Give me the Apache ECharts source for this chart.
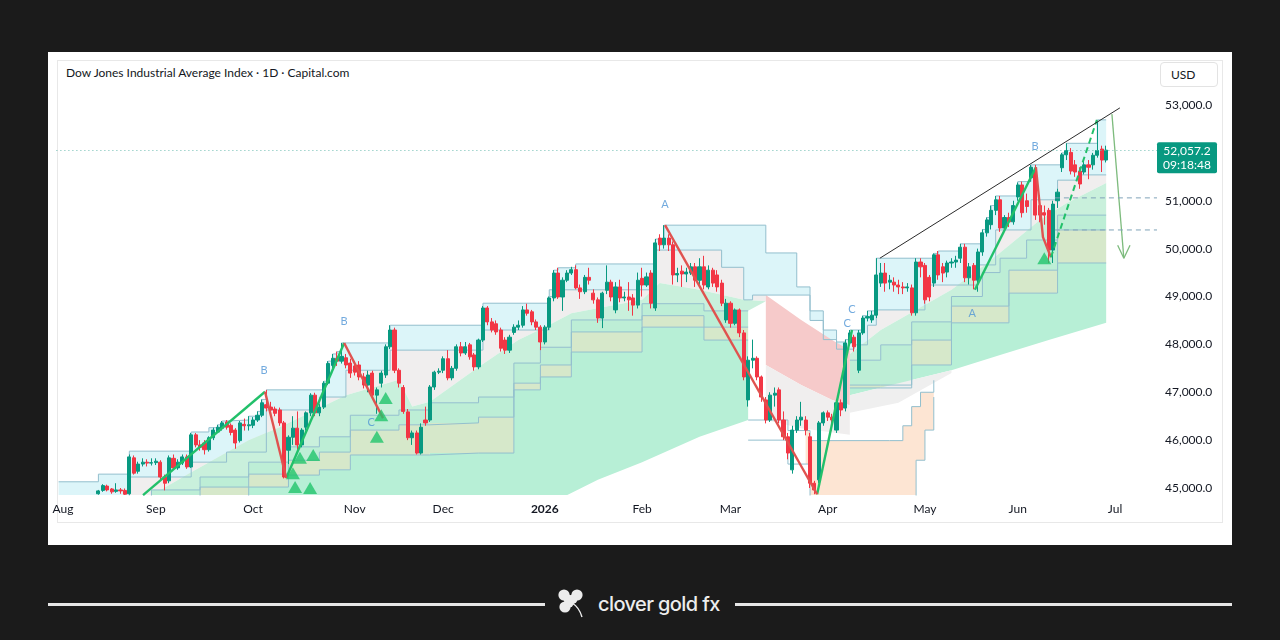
<!DOCTYPE html>
<html><head><meta charset="utf-8">
<script src="https://cdn.jsdelivr.net/npm/echarts@6/dist/echarts.min.js"></script>
<style>
html,body{margin:0;padding:0;width:1280px;height:640px;background:#1b1b1b;overflow:hidden;font-family:Lato,"Noto Sans",sans-serif;}
#panel{position:absolute;left:48px;top:52px;width:1184px;height:493px;background:#fff;}
#widget{position:absolute;left:57px;top:60px;width:1166px;height:463px;border:1px solid #e8e8e8;box-sizing:border-box;}
#chart{position:absolute;left:0;top:0;width:1280px;height:640px;}
#title{position:absolute;left:66px;top:65px;font-size:12px;color:#131722;white-space:nowrap;}
#usd{position:absolute;left:1160px;top:62px;width:58px;height:25px;border:1px solid #e3e3e3;border-radius:4px;box-sizing:border-box;font-size:12px;color:#131722;line-height:23px;padding-left:10px;}
.rule{position:absolute;top:603px;height:3px;background:#e6e6e6;}
#brand{position:absolute;left:598px;top:592px;font-family:Inter,"Noto Sans",sans-serif;font-size:20px;line-height:24px;font-weight:500;color:#ededed;letter-spacing:-0.6px;white-space:nowrap;}
#clover{position:absolute;left:555px;top:587px;}
</style></head>
<body>
<div id="panel"></div>
<div id="widget"></div>
<div id="title">Dow Jones Industrial Average Index · 1D · Capital.com</div>
<div id="usd">USD</div>
<div class="rule" style="left:48px;width:497px"></div>
<div class="rule" style="left:735px;width:497px"></div>
<svg id="clover" width="34" height="32" viewBox="0 0 34 32">
 <g fill="#ececec">
  <circle cx="9" cy="8" r="5.6"/><circle cx="13" cy="12" r="4.6"/>
  <circle cx="22" cy="8" r="5.6"/><circle cx="18" cy="12" r="4.6"/>
  <circle cx="10" cy="20" r="5.6"/><circle cx="14" cy="16" r="4.6"/>
  <circle cx="16" cy="14" r="4"/>
 </g>
 <path d="M17 16 Q24 20 27 30" stroke="#ececec" stroke-width="1.4" fill="none"/>
</svg>
<div id="brand">clover gold fx</div>
<div id="chart"></div>
<script>
// ---------- DATA ----------
const START_DATE = '2025-07-31';
const N_CATEGORIES = 249;
const LAST_COUNTDOWN = '09:18:48';
const Y_TICKS = [45000,46000,47000,48000,49000,50000,51000,52000,53000];
const MONTHS = ['Jan','Feb','Mar','Apr','May','Jun','Jul','Aug','Sep','Oct','Nov','Dec'];

// [open, close, low, high], one per weekday from 2025-07-31
const ohlc = [
[44300,44200,44100,44450],[44200,44150,43900,44400],[44150,44400,44100,44450],[44400,44100,44000,44500],[44100,44200,44000,44300],
[44200,44450,44150,44500],[44450,44350,44250,44550],[44350,44600,44300,44650],[44700,44840,44650,44850],[44880,44940,44860,44960],
[44950,45050,44920,45080],[45040,44960,44930,45070],[44980,44920,44880,45000],[44930,44960,44900,45100],[44960,44940,44880,45000],
[44950,44870,44855,44990],[44880,45650,44860,45700],[45630,45310,45280,45680],[45350,45500,45300,45550],[45500,45540,45450,45620],
[45540,45520,45450,45600],[45520,45530,45470,45620],[45530,45560,45480,45620],[45540,45230,45180,45580],[45230,45100,44950,45280],
[45150,45630,45100,45680],[45620,45420,45380,45700],[45420,45540,45380,45600],[45520,45650,45480,45700],[45650,45440,45400,45700],
[45440,46110,45420,46150],[46110,45900,45850,46150],[45900,45850,45780,46000],[45940,45800,45700,46000],[45800,46050,45760,46080],
[46050,46210,46000,46260],[46170,46270,46150,46320],[46250,46360,46200,46400],[46380,46270,46220,46420],[46310,46160,46100,46350],
[46210,45940,45820,46250],[45990,46360,45950,46400],[46330,46300,46200,46450],[46300,46320,46200,46500],[46310,46420,46250,46480],
[46420,46520,46380,46600],[46520,46780,46480,46850],[46740,46670,46600,47050],[46690,46630,46550,46800],[46650,46560,46500,46700],
[46630,46360,46300,46680],[46360,45230,45200,46400],[45790,46060,45500,46100],[46060,46250,45900,46500],[46250,45900,45800,46600],
[45900,46210,45850,46250],[46270,46570,46200,46600],[46570,46940,46500,46980],[46940,46570,46500,46990],[46570,46690,46500,46750],
[46690,47190,46650,47230],[47190,47600,47150,47650],[47560,47710,47500,47800],[47710,47650,47550,47850],[47650,47750,47600,48030],
[47720,47570,47500,47800],[47610,47400,47300,47700],[47550,47420,47350,47650],[47570,47320,47250,47650],[47320,47150,47080,47400],
[47150,47360,47000,47450],[47400,46940,46880,47450],[46940,47050,46550,47100],[47190,47400,47100,47450],[47360,47950,47300,48000],
[47950,48300,47900,48400],[48300,47460,47400,48350],[47460,47190,47100,47500],[47100,46600,46550,47150],[46590,46050,46000,46650],
[46050,46150,45900,46200],[46150,45730,45700,46200],[45730,46270,45700,46350],[46420,46360,46300,46700],[46420,47110,46380,47150],
[47110,47420,47050,47450],[47420,47440,47380,47500],[47460,47700,47400,47750],[47700,47300,47250,47880],[47300,47500,47250,47550],
[47500,47950,47450,48000],[47950,47820,47750,48050],[47820,47950,47780,48050],[47990,47740,47680,48030],[47780,47530,47450,47820],
[47530,48090,47480,48120],[48090,48760,48050,48800],[48760,48470,48400,48800],[48470,48300,48250,48550],[48430,48260,48200,48500],
[48300,47920,47850,48350],[48090,47880,47800,48150],[47880,48150,47820,48200],[48250,48360,48200,48420],[48360,48400,48300,48500],
[48400,48720,48350,48800],[48720,48650,48600,48850],[48680,48470,48400,48720],[48470,48360,48300,48520],[48360,48050,47880,48400],
[48050,48360,48000,48400],[48360,48970,48300,49000],[48970,49490,48900,49550],[49490,48990,48950,49600],[48990,49340,48700,49400],
[49340,49490,49300,49550],[49490,49560,49450,49620],[49560,49180,49150,49650],[49180,49100,48950,49250],[49100,49400,49050,49450],
[49400,49340,49250,49600],[49070,48930,48850,49150],[48930,48550,48450,48980],[48550,49070,48340,49100],[49130,49300,49050,49650],
[49300,48990,48900,49350],[48720,49200,48650,49300],[49200,48970,48880,49350],[48970,48990,48900,49100],[48990,48930,48700,49300],
[48970,48820,48600,49050],[48820,49340,48750,49500],[49380,49240,49000,49600],[49240,49410,49200,49500],[49490,48860,48750,49550],
[48760,50120,48700,50200],[50220,50080,49950,50300],[50080,50220,50000,50490],[50220,50080,49950,50300],[50080,49450,49250,50150],
[49450,49480,49300,49600],[49530,49470,49200,49650],[49470,49510,49300,49600],[49490,49620,49450,49700],[49620,49340,49200,49700],
[49340,49620,49200,49800],[49620,49240,49150,49850],[49200,49550,49150,49650],[49550,49280,49200,49600],[49450,49200,49100,49550],
[49280,48860,48800,49350],[48510,48860,48450,48950],[48860,48440,48350,48900],[48440,48720,48400,48750],[48720,48240,48150,48750],
[48240,47320,47250,48300],[46840,47670,46700,47750],[47670,47710,47500,48100],[47710,47320,47250,47750],[47320,46900,46800,47350],
[46840,46420,46350,46900],[46420,46940,46380,47000],[46940,46980,46700,47100],[47050,46420,46350,47100],[46420,46070,46000,46600],
[46070,45730,45600,46150],[45380,46210,45300,46300],[46210,46420,46150,46500],[46420,46480,46300,46800],[46420,46210,46100,46500],
[46070,45100,45000,46150],[45100,44960,44870,45150],[45170,46360,45100,46400],[46360,46570,46300,46600],[46570,46480,46400,46620],
[46480,46420,46200,46550],[46210,46780,46150,46850],[46780,46630,46500,46850],[46670,48030,46600,48100],[48030,48240,47980,48300],
[48150,47950,47850,48200],[47460,48240,47400,48300],[48240,48550,48200,48600],[48550,48580,48480,48700],[48510,48610,48450,48700],
[48610,49450,48550,49800],[49280,49490,49200,49700],[49490,49280,49100,49700],[49300,49340,49150,49450],[49300,49240,49100,49400],
[49240,49200,49050,49350],[49200,49180,49050,49300],[49180,49200,49100,49280],[49180,48660,48600,49250],[48660,49720,48600,49800],
[49720,49620,49400,49800],[49650,48930,48850,49700],[49400,48990,48900,49450],[49280,49870,49200,49900],[49870,49450,49350,49950],
[49620,49490,49300,49700],[49510,49700,49400,49750],[49700,49720,49600,49800],[49720,49760,49600,49850],[49800,50030,49700,50100],
[50030,49390,49300,50100],[49390,49620,49250,49700],[49650,49340,49150,49700],[49340,49930,49100,50000],[49930,50330,49850,50400],
[50330,50600,50250,50650],[50500,50800,50400,50900],[50800,51020,50700,51100],[51020,50430,50350,51100],[50430,50650,50350,50700],
[50650,50560,50450,50750],[50560,50900,50500,51000],[51080,51330,51000,51380],[51330,50750,50650,51400],[51000,50880,50750,51150],
[51480,51700,51400,51750],[51620,50700,50600,51750],[50900,50700,50550,51000],[50750,50700,50500,50900],[50800,49970,49700,50850],
[49970,50930,49700,51000],[51000,51180,50850,51250],[51690,51960,51600,52000],[51960,52050,51850,52200],[52010,51620,51550,52100],
[51750,51600,51500,51850],[51620,51350,51250,51700],[51600,51750,51550,51850],[51750,51700,51450,51850],[51750,51950,51650,52000],
[51950,52050,51900,52650],[52080,51850,51600,52150],[51850,52057.2,51800,52150]
];

// indicator lines: [category index, price]
const upperLine = [[0,45130],[9,45290],[16,45770],[30,46170],[34,46260],[36,46320],[37,46400],[38,46420],[43,46500],[45,46600],[46,46850],[47,47050],[60,47230],[61,47650],[62,47800],[63,47850],[64,48030],[75,48400],[96,48860],[111,49000],[112,49550],[113,49600],[117,49680],[135,50200],[137,50490],[160,49910],[167,49200],[170,48700],[173,48300],[176,48050],[178,48100],[179,48300],[182,48600],[183,48700],[185,49800],[198,49900],[199,49950],[204,50100],[209,50400],[210,50650],[211,50900],[212,51100],[217,51400],[220,51750],[227,52000],[228,52200],[235,52690],[237,52690]];
const midLine = [[0,44700],[16,45230],[30,45540],[38,45750],[47,46630],[59,46900],[65,47460],[75,47880],[96,48300],[111,49140],[135,49970],[150,49610],[155,48930],[157,49030],[170,48500],[173,48100],[176,47900],[180,47990],[183,48400],[185,48720],[196,49240],[208,49660],[212,50390],[220,51020],[226,51430],[231,51540],[237,51540]];
const emaLeft = [[0,44300],[21,44850],[31,45380],[43,46000],[50,46270],[65,46940],[77,47260],[80,46700],[84,46800],[95,47530],[104,48090],[110,48360],[116,48650],[132,48930],[136,49280],[145,49140],[155,48930],[160,48900]];
const emaRight = [[179,47800],[186,48300],[202,49140],[211,49760],[222,50600],[228,50950],[237,51370]];
const low1Left = [[0,44400],[21,44960],[32,45230],[43,45540],[52,45860],[59,46070],[66,46520],[77,46630],[84,46780],[95,46900],[103,47610],[109,47940],[116,48510],[132,48850],[146,48700],[156,48700]];
const low2Left = [[0,44300],[21,44750],[32,45020],[43,45290],[52,45580],[59,45750],[66,46210],[77,46320],[84,46360],[95,46480],[103,47190],[109,47570],[116,48260],[132,48600],[146,48360],[156,48360]];
const low3Left = [[0,44200],[21,44540],[32,44810],[43,45020],[52,45270],[59,45380],[66,45690],[77,45690],[84,45730],[95,45730],[103,47050],[109,47320],[116,47840],[132,48360],[146,48090],[156,48090]];
const low1Right = [[179,47670],[186,47990],[193,48470],[202,49000],[209,49500],[213,49800],[219,50180],[226,50700],[237,50700]];
const low2Right = [[179,47150],[186,47150],[193,48090],[202,48800],[215,49550],[226,50390],[237,50390]];
const low3Right = [[179,47090],[186,47090],[193,47570],[202,48450],[215,49070],[226,49700],[237,49700]];
const slowCurve = [[0,42660],[95,43500],[115,44850],[122,45170],[132,45540],[145,46070],[156,46420],[168,46730],[179,46940],[190,47190],[202,47460],[213,47780],[224,48090],[237,48450]];
const redTop = [[160,49030],[168,48510],[175,48090],[179,47880]];
const redBottom = [[160,47570],[168,47150],[175,46840],[179,46730]];
const greyBottom = [[160,46420],[168,46250],[179,46110]];
const fallTop = [[156,46420],[165,46200],[170,45990],[188,45990],[191,46300],[193,46700],[195,47000],[198,47250]];
const fallBottom = [[156,46000],[165,45500],[170,44500],[193,44500],[194,45580],[196,46210],[198,46900]];
const slowGreyTop = [[179,46940],[190,47190],[202,47460]];
const slowGreyBottom = [[179,46570],[190,46780],[202,47400]];

// wave structure
const waveUp = [
  [[19.1,44850],[46.7,47010]],
  [[51.5,45210],[64.6,48030]],
  [[171.6,44870],[179.5,48300]],
  [[207.3,49140],[221.1,51700]]
];
const waveDown = [
  [[46.7,47010],[51.5,45210]],
  [[64.6,48030],[73.4,46460]],
  [[137.2,50490],[171.6,44870]],
  [[221.1,51700],[222.7,50240],[224.5,49820]]
];
const waveProjection = [[224.5,49820],[234.9,52690]];
const waveLabels = [
  {name:'B', value:[46.5,47460]},{name:'B', value:[64.6,48470]},{name:'C', value:[70.7,46360]},
  {name:'A', value:[137.2,50930]},{name:'C', value:[179.5,48740]},{name:'C', value:[178.4,48430]},
  {name:'A', value:[206.7,48650]},{name:'B', value:[220.9,52140]}
];
const signals = [[53,45310],[54.6,45630],[57.6,45690],[53.5,45020],[56.9,45000],[74,46880],[73,46520],[72,46070],[223,49800]];
const resistance = [[185.8,49800],[240.1,52940]];
const forecastArrow = [[238.3,52810],[241,49800]];
const forecastHead = [[239.6,50070],[241,49800],[242.4,50070]];
const targetLevels = [51060, 50390];
const targetStart = 225.4;

// ---------- BUILD ----------
const dates = [];
{
  const d = new Date(START_DATE + 'T00:00:00Z');
  while (dates.length < N_CATEGORIES) {
    const wd = d.getUTCDay();
    if (wd !== 0 && wd !== 6) dates.push(d.toISOString().slice(0,10));
    d.setUTCDate(d.getUTCDate() + 1);
  }
}
const LAST = ohlc[ohlc.length-1][1];
const X_MAX = N_CATEGORIES - 0.5;

function sliceStep(line, a, b){
  let held = line[0][1];
  for (const p of line) if (p[0] <= a) held = p[1];
  const out = [[a, held]];
  for (const p of line) if (p[0] > a && p[0] < b) out.push(p);
  out.push([b, out[out.length-1][1]]);
  return out;
}
function toPts(line, stepped, api){
  const out = [];
  for (let i = 0; i < line.length; i++){
    out.push(api.coord(line[i]));
    if (stepped && i < line.length - 1) out.push(api.coord([line[i+1][0], line[i][1]]));
  }
  return out;
}
function band(upper, uStep, lower, lStep, color){
  return {
    type:'custom', xAxisIndex:1, yAxisIndex:0, z:1, silent:true, clip:true,
    data:[[120,48000]],
    renderItem:function(params, api){
      const up = toPts(upper, uStep, api);
      const lo = toPts(lower, lStep, api).reverse();
      return {type:'polygon', shape:{points:up.concat(lo)}, style:{fill:color}};
    }
  };
}
function stepLine(line){
  return {type:'line', xAxisIndex:1, yAxisIndex:0, z:2, silent:true, step:'end', symbol:'none',
    data:line, lineStyle:{color:'#93bfce', width:1}};
}
function plainLine(data, color, width, z, type){
  return {type:'line', xAxisIndex:1, yAxisIndex:0, z:z, silent:true, symbol:'none',
    data:data, lineStyle:{color:color, width:width, type:type||'solid'}};
}

const C_CYAN='#dcf5f9', C_GREY='#f0eeee', C_LGREEN='#c9f0dc', C_MINT1='#bdeed6', C_SAGE='#d6e8ca',
      C_MINT='#b7efd6', C_RED='#f6caca', C_PEACH='#fde5d3';

const series = [
  band(upperLine, true, midLine, true, C_CYAN),
  band(sliceStep(midLine, 0, 160), true, emaLeft, false, C_GREY),
  band(sliceStep(midLine, 179, 237), true, emaRight, false, C_GREY),
  band(emaLeft, false, low1Left, true, C_LGREEN),
  band(emaRight, false, low1Right, true, C_LGREEN),
  band(low1Left, true, low2Left, true, C_MINT1),
  band(low1Right, true, low2Right, true, C_MINT1),
  band(low2Left, true, low3Left, true, C_SAGE),
  band(low2Right, true, low3Right, true, C_SAGE),
  band(low3Left, true, slowCurve.filter(p=>p[0]<=156), false, C_MINT),
  band(low3Right, true, slowCurve.filter(p=>p[0]>=179), false, C_MINT),
  band(redTop, false, redBottom, false, C_RED),
  band(redBottom, false, greyBottom, false, C_GREY),
  band(slowGreyTop, false, slowGreyBottom, false, '#efefef'),
  band(sliceStep(fallTop, 169, 198), true, sliceStep(fallBottom, 169, 198), true, C_PEACH),
  stepLine(upperLine), stepLine(midLine),
  stepLine(low1Left), stepLine(low2Left), stepLine(low3Left),
  stepLine(low1Right), stepLine(low2Right), stepLine(low3Right),
  stepLine(fallTop), stepLine(fallBottom),
  {
    type:'candlestick', xAxisIndex:0, yAxisIndex:0, z:3, data:ohlc, barWidth:3.6, clip:true,
    itemStyle:{color:'#089981', color0:'#f23645', borderColor:'#089981', borderColor0:'#f23645', borderWidth:1},
    markLine:{silent:true, symbol:['none','none'], label:{show:false},
      lineStyle:{type:[1,3], color:'#6fbdb2', width:1}, data:[{yAxis:LAST}]}
  }
];
waveUp.forEach(s=>series.push(plainLine(s,'#22c06a',2.4,4)));
waveDown.forEach(s=>series.push(plainLine(s,'#e0524f',2.4,4)));
series.push(plainLine(waveProjection,'#22c06a',2,4,[6,4]));
series.push(plainLine(resistance,'#2a2a2a',1,4));
series.push(plainLine(forecastArrow,'#7dbb7d',1.3,4));
series.push(plainLine(forecastHead,'#7dbb7d',1.3,4));
targetLevels.forEach(v=>series.push(plainLine([[targetStart,v],[X_MAX,v]],'#7fa3b8',1,4,[5,4])));
series.push({type:'scatter', xAxisIndex:1, yAxisIndex:0, z:5, silent:true, data:signals,
  symbol:'triangle', symbolSize:[14,12], itemStyle:{color:'#20c46c'}});
series.push({type:'scatter', xAxisIndex:1, yAxisIndex:0, z:5, silent:true, data:waveLabels,
  symbolSize:1, itemStyle:{color:'rgba(0,0,0,0)'},
  label:{show:true, position:'inside', formatter:'{b}', color:'#4f95d6', fontSize:11, fontFamily:'Lato'}});

const chart = echarts.init(document.getElementById('chart'), null, {renderer:'canvas'});
chart.setOption({
  animation:false,
  backgroundColor:'transparent',
  grid:{left:56.4, top:60, width:1100.6, height:435},
  xAxis:[
    {type:'category', data:dates, boundaryGap:true,
     axisLine:{show:false}, axisTick:{show:false}, splitLine:{show:false},
     axisLabel:{
       interval:function(i,v){ return i>0 && v.slice(5,7)!==dates[i-1].slice(5,7); },
       formatter:function(v){ const m=+v.slice(5,7); return m===1 ? '{b|'+v.slice(0,4)+'}' : MONTHS[m-1]; },
       color:'#131722', fontSize:12, fontFamily:'Lato', margin:8,
       rich:{b:{fontWeight:'bold', color:'#131722', fontSize:12, fontFamily:'Lato'}}
     }},
    {type:'value', min:-0.5, max:X_MAX, show:false}
  ],
  yAxis:[{type:'value', position:'right', min:44854, max:53940,
    axisLine:{show:false}, axisTick:{show:false}, splitLine:{show:false},
    axisLabel:{customValues:Y_TICKS, margin:8, color:'#131722', fontSize:12, fontFamily:'Lato',
      formatter:function(v){ return v.toLocaleString('en-US',{minimumFractionDigits:1, maximumFractionDigits:1}); }}}],
  series:series
});
const py = chart.convertToPixel({yAxisIndex:0}, LAST);
chart.setOption({graphic:[
  {type:'rect', z:100, shape:{x:1157, y:py-8, width:60, height:31, r:2}, style:{fill:'#089981'}},
  {type:'text', z:101, x:1187, y:py+0.5, style:{text:LAST.toLocaleString('en-US',{minimumFractionDigits:1}), fill:'#fff', font:'12px Lato', align:'center', verticalAlign:'middle'}},
  {type:'text', z:101, x:1187, y:py+14.5, style:{text:LAST_COUNTDOWN, fill:'#fff', font:'12px Lato', align:'center', verticalAlign:'middle'}}
]});
</script>
</body></html>
